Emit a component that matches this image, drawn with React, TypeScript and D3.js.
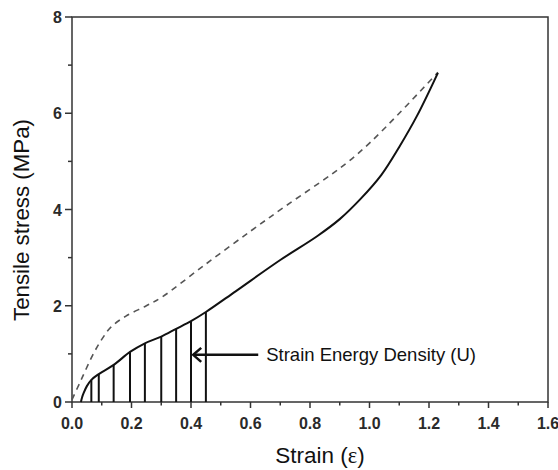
import React from "react";
import * as d3 from "d3";

// ---- data ----
const solidStrain = [0.03, 0.034, 0.04, 0.05, 0.065, 0.09, 0.14, 0.195, 0.245, 0.3, 0.35, 0.4, 0.45, 0.55, 0.7, 0.825, 0.9, 0.97, 1.04, 1.1, 1.16, 1.23];
const solidStress = [0.0, 0.1, 0.2, 0.33, 0.46, 0.58, 0.77, 1.04, 1.22, 1.36, 1.52, 1.68, 1.87, 2.3, 2.95, 3.45, 3.8, 4.22, 4.72, 5.3, 5.95, 6.84];

const dashStrain = [0.0, 0.03, 0.07, 0.1, 0.13, 0.18, 0.25, 0.3, 0.44, 0.6, 0.72, 0.87, 0.93, 1.0, 1.1, 1.23];
const dashStress = [0.05, 0.45, 0.98, 1.3, 1.55, 1.78, 2.0, 2.17, 2.82, 3.55, 4.08, 4.72, 5.0, 5.38, 6.0, 6.85];

const hatchStrain = [0.065, 0.09, 0.14, 0.195, 0.245, 0.3, 0.35, 0.4, 0.45];
const hatchStress = [0.46, 0.58, 0.77, 1.04, 1.22, 1.36, 1.52, 1.68, 1.87];

const xTicks = [0.0, 0.2, 0.4, 0.6, 0.8, 1.0, 1.2, 1.4, 1.6];
const xMinor = [0.1, 0.3, 0.5, 0.7, 0.9, 1.1, 1.3, 1.5];
const yTicks = [0, 2, 4, 6, 8];
const yMinor = [1, 3, 5, 7];

const arrowTip = [0.404, 0.98];
const arrowTail = [0.626, 0.98];
const annotation = "Strain Energy Density (U)";

const W = 558, H = 470;
const left = 72, right = 548, top = 17, bottom = 402;

export default function App() {
  const x = d3.scaleLinear().domain([0, 1.6]).range([left, right]);
  const y = d3.scaleLinear().domain([0, 8]).range([bottom, top]);
  const line = d3
    .line<[number, number]>()
    .x((d) => x(d[0]))
    .y((d) => y(d[1]))
    .curve(d3.curveCatmullRom.alpha(0.5));
  const solid = solidStrain.map((s, i) => [s, solidStress[i]] as [number, number]);
  const dashed = dashStrain.map((s, i) => [s, dashStress[i]] as [number, number]);
  const axisColor = "#333";
  const font = "Arial, 'Liberation Sans', Helvetica, sans-serif";

  const tx = x(arrowTip[0]), ty = y(arrowTip[1]);
  return (
    <svg width={W} height={H} style={{ position: "absolute", left: 0, top: 0, background: "#fff" }}>
      <rect x={0} y={0} width={W} height={H} fill="#fff" />
      {/* frame */}
      <rect x={left} y={top} width={right - left} height={bottom - top} fill="none" stroke={axisColor} strokeWidth={1.5} />
      {/* x ticks */}
      {xTicks.map((t) => (
        <g key={"xt" + t}>
          <line x1={x(t)} x2={x(t)} y1={bottom} y2={bottom + 6} stroke={axisColor} strokeWidth={1.5} />
          <text x={x(t)} y={bottom + 27} textAnchor="middle" fontFamily={font} fontSize={16} fontWeight="bold" fill="#2a2a2a">
            {t.toFixed(1)}
          </text>
        </g>
      ))}
      {xMinor.map((t) => (
        <line key={"xm" + t} x1={x(t)} x2={x(t)} y1={bottom} y2={bottom + 3.5} stroke={axisColor} strokeWidth={1.5} />
      ))}
      {/* y ticks */}
      {yTicks.map((t) => (
        <g key={"yt" + t}>
          <line x1={left - 7} x2={left} y1={y(t)} y2={y(t)} stroke={axisColor} strokeWidth={1.5} />
          <text x={left - 10} y={y(t) + 6} textAnchor="end" fontFamily={font} fontSize={16} fontWeight="bold" fill="#2a2a2a">
            {t}
          </text>
        </g>
      ))}
      {yMinor.map((t) => (
        <line key={"ym" + t} x1={left - 4} x2={left} y1={y(t)} y2={y(t)} stroke={axisColor} strokeWidth={1.5} />
      ))}
      {/* axis titles */}
      <text x={320} y={463} textAnchor="middle" fontFamily={font} fontSize={22.5} fill="#111">
        Strain (<tspan fontFamily="'Liberation Serif', 'Times New Roman', serif">ε</tspan>)
      </text>
      <text
        transform={`translate(29, 220) rotate(-90)`}
        textAnchor="middle"
        fontFamily={font}
        fontSize={22.3}
        fill="#111"
      >
        Tensile stress (MPa)
      </text>
      {/* hatch */}
      {hatchStrain.map((s, i) => (
        <line key={"h" + s} x1={x(s)} x2={x(s)} y1={y(0)} y2={y(hatchStress[i])} stroke="#111" strokeWidth={2} />
      ))}
      {/* curves */}
      <path d={line(dashed) || ""} fill="none" stroke="#555" strokeWidth={1.6} strokeDasharray="6,5" />
      <path d={line(solid) || ""} fill="none" stroke="#111" strokeWidth={2} />
      {/* arrow */}
      <line x1={x(arrowTail[0])} x2={tx + 1} y1={ty} y2={ty} stroke="#111" strokeWidth={2.5} />
      <path d={`M${tx + 9},${ty - 7} L${tx + 1},${ty} L${tx + 9},${ty + 7}`} fill="none" stroke="#111" strokeWidth={2.5} />
      <text x={x(arrowTail[0]) + 8} y={ty + 6.5} fontFamily={font} fontSize={18.5} fill="#111">
        {annotation}
      </text>
    </svg>
  );
}
